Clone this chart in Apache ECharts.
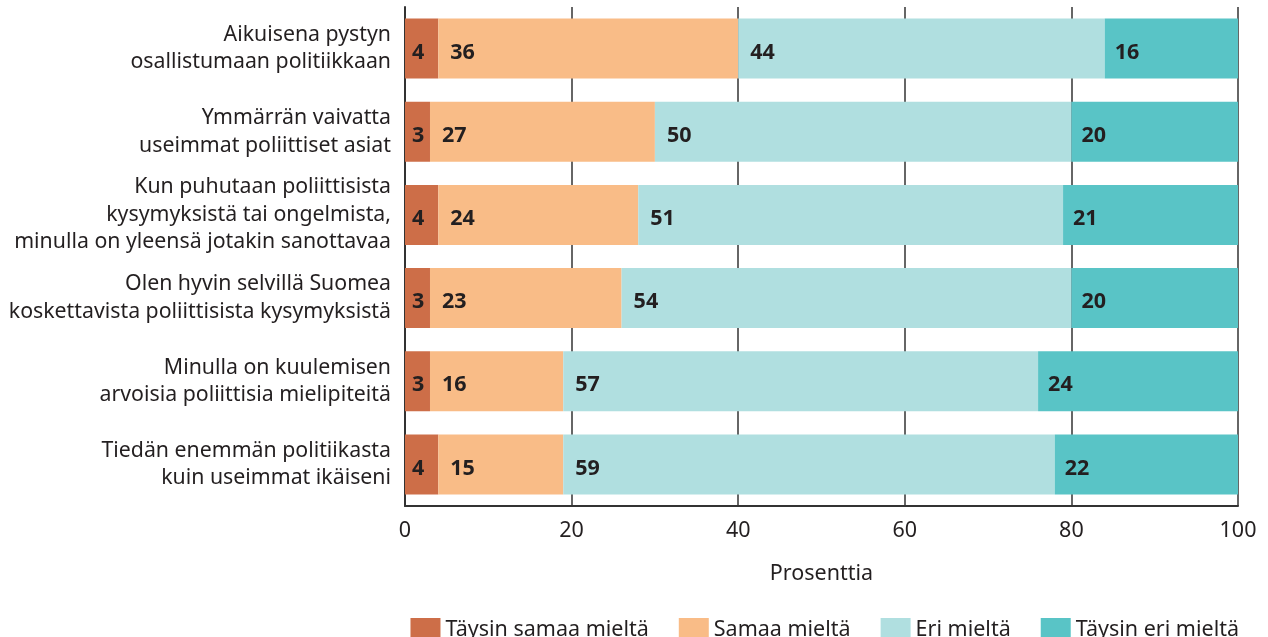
<!DOCTYPE html>
<html>
<head>
<meta charset="utf-8">
<script src="https://cdn.jsdelivr.net/npm/echarts@6/dist/echarts.min.js"></script>
<style>
    html, body { margin: 0; padding: 0; background: #fff; }
    #chart { width: 1268px; height: 637px; }
</style>
</head>
<body>
<div id="chart"></div>
<script>
    // väittämät
    var categories = [
        'Aikuisena pystyn\nosallistumaan politiikkaan',
        'Ymmärrän vaivatta\nuseimmat poliittiset asiat',
        'Kun puhutaan poliittisista\nkysymyksistä tai ongelmista,\nminulla on yleensä jotakin sanottavaa',
        'Olen hyvin selvillä Suomea\nkoskettavista poliittisista kysymyksistä',
        'Minulla on kuulemisen\narvoisia poliittisia mielipiteitä',
        'Tiedän enemmän politiikasta\nkuin useimmat ikäiseni'
    ];
    var seriesNames = ['Täysin samaa mieltä', 'Samaa mieltä', 'Eri mieltä', 'Täysin eri mieltä'];
    var taysinSamaa = [4, 3, 4, 3, 3, 4];
    var samaa = [36, 27, 24, 23, 16, 15];
    var eri = [44, 50, 51, 54, 57, 59];
    var taysinEri = [16, 20, 21, 20, 24, 22];
    var xTicks = [0, 20, 40, 60, 80, 100];

    var colors = ['#CD6E48', '#F9BC87', '#B0DFE0', '#59C4C6'];
    var font = 'Noto Sans';

    var chart = echarts.init(document.getElementById('chart'));

    function makeSeries(name, data, color, dist) {
        return {
            name: name,
            type: 'bar',
            stack: 'total',
            data: data,
            barWidth: 60,
            itemStyle: { color: color },
            label: {
                show: true,
                position: 'insideLeft',
                distance: dist,
                offset: [0, 4],
                color: '#231F20',
                fontFamily: font,
                fontWeight: 'bold',
                fontSize: 21.5
            }
        };
    }

    var option = {
        animation: false,
        textStyle: { fontFamily: font },
        grid: {
            left: 405,
            right: 30,
            top: 7,
            bottom: 131
        },
        legend: {
            right: 24,
            top: 613,
            itemWidth: 30,
            itemHeight: 24,
            itemGap: 30,
            icon: 'rect',
            textStyle: { color: '#231F20', fontSize: 21.5, fontFamily: font },
            data: seriesNames
        },
        xAxis: {
            type: 'value',
            min: xTicks[0],
            max: xTicks[xTicks.length - 1],
            interval: 20,
            name: 'Prosenttia',
            nameLocation: 'middle',
            nameGap: 57,
            nameTextStyle: { color: '#231F20', fontSize: 21.5, fontFamily: font },
            axisLine: { show: true, lineStyle: { color: '#333', width: 2 } },
            axisTick: { show: false },
            axisLabel: { color: '#231F20', fontSize: 21.5, margin: 14, fontFamily: font },
            splitLine: { show: true, lineStyle: { color: '#333', width: 1.5 } }
        },
        yAxis: {
            type: 'category',
            inverse: true,
            data: categories,
            axisLine: { show: true, lineStyle: { color: '#333', width: 2 } },
            axisTick: { show: false },
            axisLabel: {
                color: '#231F20',
                fontSize: 21.3,
                lineHeight: 27.5,
                margin: 14,
                align: 'right',
                padding: [8, 0, 0, 0],
                fontFamily: font
            }
        },
        series: [
            makeSeries(seriesNames[0], taysinSamaa, colors[0], 7),
            makeSeries(seriesNames[1], samaa, colors[1], 12),
            makeSeries(seriesNames[2], eri, colors[2], 12),
            makeSeries(seriesNames[3], taysinEri, colors[3], 10)
        ]
    };
    chart.setOption(option);
</script>
</body>
</html>
